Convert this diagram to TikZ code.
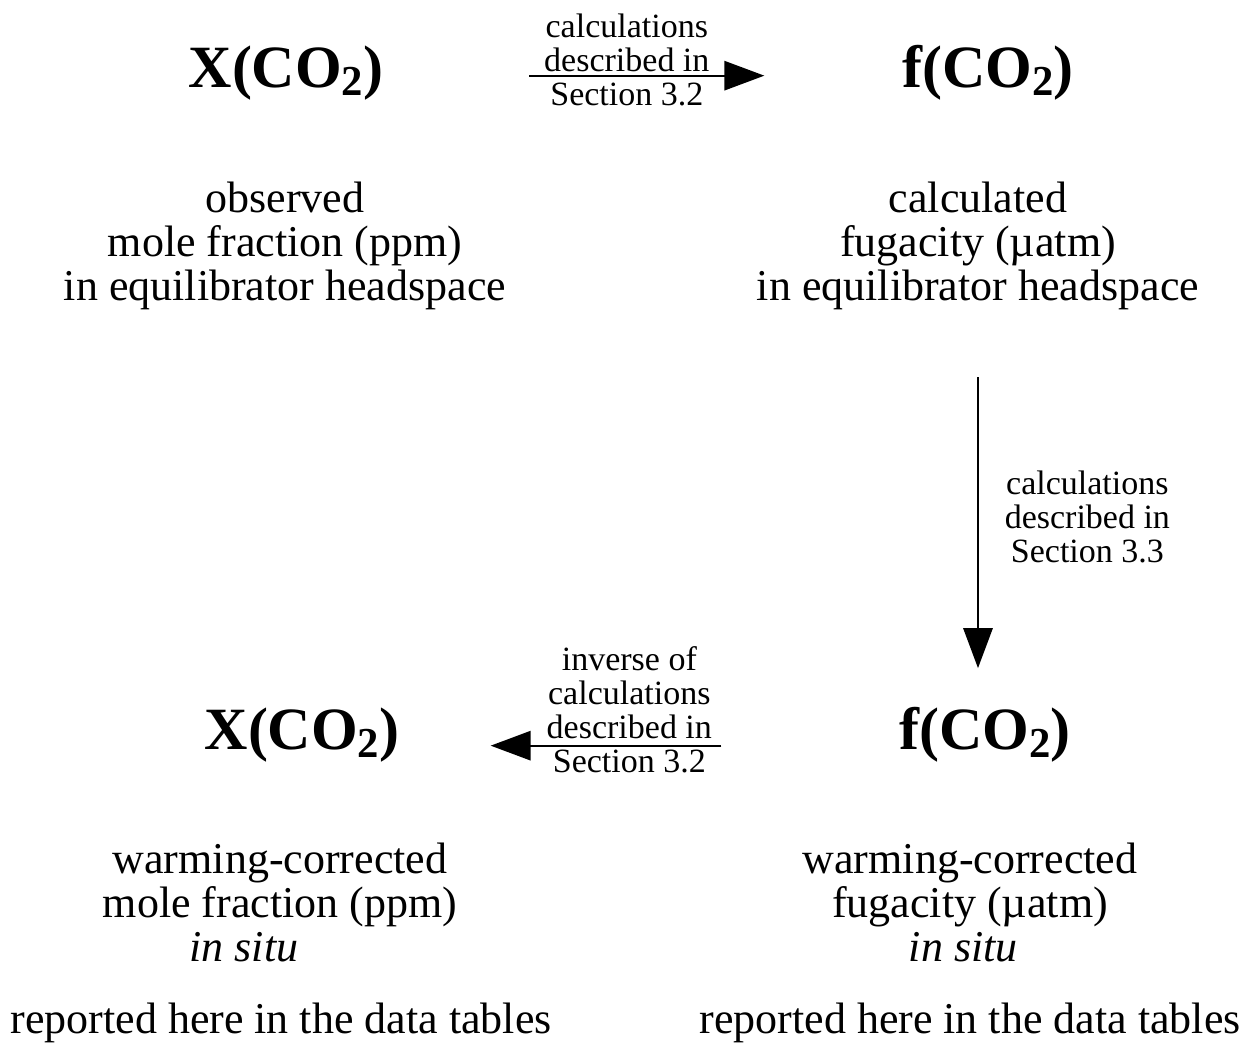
\documentclass[tikz,border=0pt]{standalone}
\usepackage{fontspec}
\setmainfont{Liberation Serif}
\usetikzlibrary{arrows.meta,positioning}
\newcommand\cotwo{CO\raisebox{-6pt}{\fontsize{32}{32}\selectfont 2}}

\begin{document}
\begin{tikzpicture}[x=0.75pt,y=-0.75pt,
    title/.style={font=\fontsize{45}{45}\selectfont\bfseries},
    desc/.style={align=center,font=\fontsize{33}{33}\selectfont},
    note/.style={align=center,font=\fontsize{25.5}{25.5}\selectfont},
    flow/.style={-{Triangle[length=30pt,width=22pt]},line width=1.5pt}]
  \useasboundingbox (0,0) rectangle (1243,1046);
  % upper row
  \node[title] (x_top) at (286,73) {X(\cotwo)};
  \node[title] (f_top) at (988,73) {f(\cotwo)};
  \node[desc] (x_obs) at (285,246) {observed\\mole fraction (ppm)\\in equilibrator headspace};
  \node[desc] (f_calc) at (978,246) {calculated\\fugacity (µatm)\\in equilibrator headspace};
  % lower row
  \node[title] (x_bot) at (302,735) {X(\cotwo)};
  \node[title] (f_bot) at (985,735) {f(\cotwo)};
  \node[desc] (x_warm) at (280,902) {warming-corrected\\mole fraction (ppm)\\\textit{in situ}\hspace*{54pt}};
  \node[desc] (f_warm) at (970,902) {warming-corrected\\fugacity (µatm)\\\textit{in situ}\hspace*{10pt}};
  \node[desc] (x_rep) at (281,1023) {reported here in the data tables};
  \node[desc] (f_rep) at (970,1023) {reported here in the data tables};
  % connectors
  \draw[flow,shorten <=106pt,shorten >=100pt] ([yshift=-2pt]x_top.east) -- ([yshift=-2pt]f_top.west)
    node[note,midway,xshift=-12pt,yshift=12pt] {calculations\\described in\\Section 3.2};
  \draw[flow,shorten <=47pt,shorten >=26pt] (f_calc.south) -- (f_calc.south |- f_bot.north)
    node[note,midway,right=16pt,yshift=-6pt] {calculations\\described in\\Section 3.3};
  \draw[flow,shorten <=130pt,shorten >=65pt] ([yshift=-8pt]f_bot.west) -- ([yshift=-8pt]x_bot.east)
    node[note,midway,xshift=-15pt,yshift=27pt] {inverse of\\calculations\\described in\\Section 3.2};
\end{tikzpicture}
\end{document}
